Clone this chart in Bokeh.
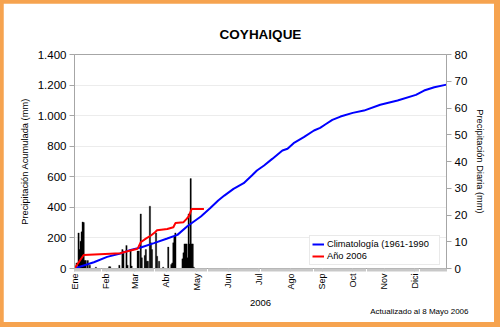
import math
from bokeh.plotting import figure
from bokeh.models import Range1d, LinearAxis, FixedTicker, Legend, LegendItem, Title
from bokeh.layouts import column
from bokeh.embed import file_html
from bokeh.resources import INLINE

# ---------------- data ----------------
month_days = [0, 31, 59, 90, 120, 151, 181, 212, 243, 273, 304, 334]
month_labels = ["Ene", "Feb", "Mar", "Abr", "May", "Jun", "Jul", "Ago", "Sep", "Oct", "Nov", "Dici"]

# climatology 1961-1990, accumulated (mm)
clim_day = [0, 6, 19, 32, 45, 55, 65, 78, 91, 101, 111, 124, 133, 141, 147, 156, 166, 174, 179,
            186, 194, 204, 209, 215, 225, 235, 241, 246, 253, 261, 273, 284, 300, 317, 335, 343, 353, 365]
clim_acc = [0, 13, 41, 76, 98, 122, 137, 166, 196, 220, 278, 340, 394, 445, 477, 521, 558, 608, 641,
            674, 717, 772, 783, 820, 859, 903, 920, 942, 972, 994, 1018, 1033, 1071, 1099, 1136, 1164, 1186, 1203]

# year 2006, accumulated (mm)
y2006_day = [0, 9, 30, 45, 52, 61, 62, 65, 70, 75, 79, 81, 91, 97, 99, 107, 110, 112, 115, 127]
y2006_acc = [0, 88, 95, 100, 113, 128, 130, 172, 195, 216, 237, 250, 258, 270, 297, 303, 325, 340, 390, 390]

# year 2006, daily precipitation (mm)
daily_day = [2, 4, 5, 6, 7, 8, 9, 10, 11, 13, 15, 21,
             34, 35, 44, 47, 48, 51, 52, 55, 56,
             62, 63, 65, 66, 69, 70, 71, 72, 74, 75, 76, 80, 81, 83,
             87, 92, 95, 96, 97, 98, 99, 106, 107, 108, 109, 110, 111, 112, 113, 114, 115, 116, 117]
daily_mm = [2.1, 13.3, 7.1, 10.2, 13.7, 17.4, 17.2, 3.0, 3.0, 3.0, 1.2, 0.5,
            0.7, 0.7, 1.2, 7.1, 6.5, 8.6, 1.2, 6.5, 0.9,
            6.5, 6.5, 20.4, 4.0, 4.9, 7.1, 2.7, 2.7, 23.3, 9.6, 7.1, 13.3, 4.6, 2.7,
            0.5, 8.0, 1.5, 2.1, 9.6, 12.1, 13.3, 3.6, 5.9, 9.2, 9.2, 9.2, 4.0, 20.4, 9.2, 33.6, 9.2, 9.2, 0.5]

left_ticks = [0, 200, 400, 600, 800, 1000, 1200, 1400]
left_labels = ["0", "200", "400", "600", "800", "1.000", "1.200", "1.400"]
right_ticks = [0, 10, 20, 30, 40, 50, 60, 70, 80]

FONT = "Liberation Sans"
GRAY = "#a6a6a6"

p = figure(width=491, height=319, x_range=Range1d(0, 365), y_range=Range1d(0, 1400),
           output_backend="svg", toolbar_location=None,
           min_border_left=71, min_border_right=48, min_border_top=51, min_border_bottom=54)
p.extra_y_ranges = {"daily": Range1d(0, 80)}

p.background_fill_color = "white"
p.border_fill_color = "white"
p.outline_line_color = GRAY
p.outline_line_width = 1

# title
p.title.text = "COYHAIQUE"
p.title.align = "center"
p.title.text_font = FONT
p.title.text_font_size = "13.5px"
p.title.text_font_style = "bold"
p.title.text_color = "black"
p.title.standoff = 26
p.title.offset = -5

# bars (right axis)
p.vbar(x=daily_day, top=daily_mm, width=1.3, y_range_name="daily",
       fill_color="black", line_color="black", line_width=0.3)

blue = p.line(clim_day, clim_acc, line_color="#0000ff", line_width=2)
red = p.line(y2006_day, y2006_acc, line_color="#ff0000", line_width=2)

# x axis
xa = p.xaxis[0]
xa.ticker = FixedTicker(ticks=month_days, minor_ticks=list(range(0, 366)))
xa.major_label_overrides = {d: l for d, l in zip(month_days, month_labels)}
xa.major_label_orientation = math.pi / 2
xa.major_label_text_font = FONT
xa.major_label_text_font_size = "9px"
xa.major_label_text_color = "black"
xa.major_tick_out = 3
xa.major_tick_in = 0
xa.minor_tick_out = 3
xa.minor_tick_in = 0
xa.major_tick_line_color = "#c8c8c8"
xa.minor_tick_line_color = "#c8c8c8"
xa.axis_line_color = GRAY
xa.major_label_standoff = 2
xa.axis_label = "2006"
xa.axis_label_text_font = FONT
xa.axis_label_text_font_size = "9.5px"
xa.axis_label_text_font_style = "normal"
xa.axis_label_text_color = "black"
xa.axis_label_standoff = 6

# left axis
ya = p.yaxis[0]
ya.ticker = FixedTicker(ticks=left_ticks)
ya.major_label_overrides = {t: l for t, l in zip(left_ticks, left_labels)}
ya.major_label_text_font = FONT
ya.major_label_text_font_size = "11.5px"
ya.major_label_text_color = "black"
ya.major_tick_out = 5
ya.major_tick_in = 0
ya.minor_tick_out = 0
ya.minor_tick_in = 0
ya.major_tick_line_color = GRAY
ya.axis_line_color = GRAY
ya.major_label_standoff = 3
ya.axis_label = "Precipitación Acumulada (mm)"
ya.axis_label_text_font = FONT
ya.axis_label_text_font_size = "9.3px"
ya.axis_label_text_font_style = "normal"
ya.axis_label_text_color = "black"
ya.axis_label_standoff = 5

# right axis
ra = LinearAxis(y_range_name="daily", ticker=FixedTicker(ticks=right_ticks))
ra.major_label_text_font = FONT
ra.major_label_text_font_size = "11.5px"
ra.major_label_text_color = "black"
ra.major_tick_out = 5
ra.major_tick_in = 0
ra.minor_tick_out = 0
ra.minor_tick_in = 0
ra.major_tick_line_color = GRAY
ra.axis_line_color = GRAY
ra.major_label_standoff = 3
ra.axis_label = "Precipitación Diaria (mm)"
ra.axis_label_text_font = FONT
ra.axis_label_text_font_size = "9.3px"
ra.axis_label_text_font_style = "normal"
ra.axis_label_text_color = "black"
ra.axis_label_standoff = 5
p.add_layout(ra, "right")

# grid
p.xgrid.visible = False
p.ygrid.ticker = FixedTicker(ticks=left_ticks)
p.ygrid.grid_line_color = "#ececec"

# legend
legend = Legend(items=[LegendItem(label="Climatología (1961-1990", renderers=[blue]),
                       LegendItem(label="Año 2006", renderers=[red])],
                location=(235, 3), padding=2, spacing=0, margin=0,
                label_height=12, glyph_height=12, glyph_width=12, label_standoff=3,
                label_width=110, label_text_font=FONT, label_text_font_size="9.3px",
                label_text_color="black", border_line_color="#d4d4d4",
                background_fill_color="white", background_fill_alpha=1)
p.add_layout(legend)

# footnote
note = Title(text="Actualizado al 8 Mayo 2006", align="right", text_font=FONT,
             text_font_size="8px", text_font_style="normal", text_color="black",
             offset=-22, standoff=-14)
p.add_layout(note, "below")

page = column(p, styles={"background-color": "#f6a34f", "padding": "3px 6px 5px 3px"})

open("out.html", "w").write(file_html(page, INLINE))
